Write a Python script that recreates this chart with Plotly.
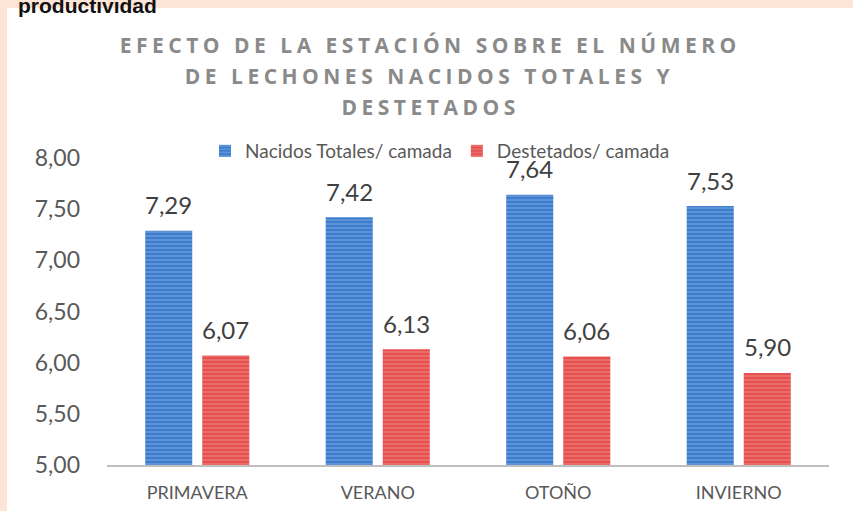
import plotly.graph_objects as go

categories = ["PRIMAVERA", "VERANO", "OTOÑO", "INVIERNO"]
nacidos = [7.29, 7.42, 7.64, 7.53]
destetados = [6.07, 6.13, 6.06, 5.90]
series_names = ["Nacidos Totales/ camada", "Destetados/ camada"]
title_lines = ["EFECTO DE LA ESTACIÓN SOBRE EL NÚMERO",
               "DE LECHONES NACIDOS TOTALES Y",
               "DESTETADOS"]
header_text = "productividad"

W, H = 853, 511
ML, MR, MT, MB = 107, 24, 158, 46
PW, PH = W - ML - MR, H - MT - MB


def px_x(p):
    return (p - ML) / PW


def px_y(p):
    return (H - MB - p) / PH


base_font = "Lato, Open Sans, sans-serif"
label_font = dict(family=base_font, size=24, color="#404040")

fig = go.Figure()
fig.add_trace(go.Bar(
    x=categories, y=nacidos, name=series_names[0],
    marker=dict(color="#3d7dcf", line=dict(width=0),
                pattern=dict(shape="-", fgcolor="#a6c3ea", bgcolor="#3d7dcf",
                             size=4, solidity=0.3)),
))
fig.add_trace(go.Bar(
    x=categories, y=destetados, name=series_names[1],
    marker=dict(color="#e6514f", line=dict(width=0),
                pattern=dict(shape="-", fgcolor="#f4a9a8", bgcolor="#e6514f",
                             size=4, solidity=0.3)),
))

annotations = []
for vals, shift in ((nacidos, -28.5), (destetados, 28.5)):
    for c, v in zip(categories, vals):
        annotations.append(dict(
            x=c, y=v, xref="x", yref="y", text=f"{v:.2f}".replace(".", ","),
            showarrow=False, xanchor="center", yanchor="middle",
            xshift=shift, yshift=26, font=label_font))

title_y = [45, 76, 107]
for line, py in zip(title_lines, title_y):
    annotations.append(dict(
        text=line, xref="paper", yref="paper", x=px_x(430), y=px_y(py),
        xanchor="center", yanchor="middle", showarrow=False,
        font=dict(family="Open Sans, sans-serif", size=21, color="#8a8a8a", weight=700)))

annotations.append(dict(
    text=header_text, xref="paper", yref="paper", x=px_x(16), y=px_y(19),
    xanchor="left", yanchor="bottom", showarrow=False,
    font=dict(family="Liberation Sans, Arial, sans-serif", size=21, color="#111111", weight="bold")))

fig.update_layout(
    width=W, height=H,
    margin=dict(l=ML, r=MR, t=MT, b=MB, pad=0),
    paper_bgcolor="#fce4d6",
    plot_bgcolor="white",
    separators=",.",
    barmode="group", bargap=0.368, bargroupgap=0.175,
    showlegend=True,
    legend=dict(orientation="h", x=px_x(440), xanchor="center",
                y=px_y(151), yanchor="middle",
                font=dict(family=base_font, size=19, color="#595959"),
                bgcolor="rgba(0,0,0,0)", itemwidth=30),
    xaxis=dict(showgrid=False, showline=True, linecolor="#bfbfbf", linewidth=2,
               ticks="", automargin=False,
               tickfont=dict(family=base_font, size=18, color="#595959"),
               ticklabelstandoff=10),
    yaxis=dict(range=[5, 8], dtick=0.5, tickformat=".2f", showgrid=False,
               showline=False, zeroline=False, ticks="", automargin=False,
               tickfont=dict(family=base_font, size=23, color="#595959"),
               ticklabelstandoff=26),
    shapes=[dict(type="rect", xref="paper", yref="paper",
                 x0=px_x(7), x1=px_x(900), y0=px_y(8), y1=px_y(560),
                 fillcolor="white", line=dict(width=0), layer="below")],
    annotations=annotations,
)

post = """
document.body.style.margin = '0';
document.body.style.padding = '0';
var gd = document.getElementById('{plot_id}');
gd.querySelectorAll('.annotation-text').forEach(function(t){
  var s = t.textContent;
  if (s.indexOf('EFECTO')===0 || s.indexOf('DE LECHONES')===0 || s.indexOf('DESTETADOS')===0) {
    t.style.letterSpacing = '4.5px';
  }
});
"""

fig.write_html("out.html", post_script=post, config={"displayModeBar": False})
